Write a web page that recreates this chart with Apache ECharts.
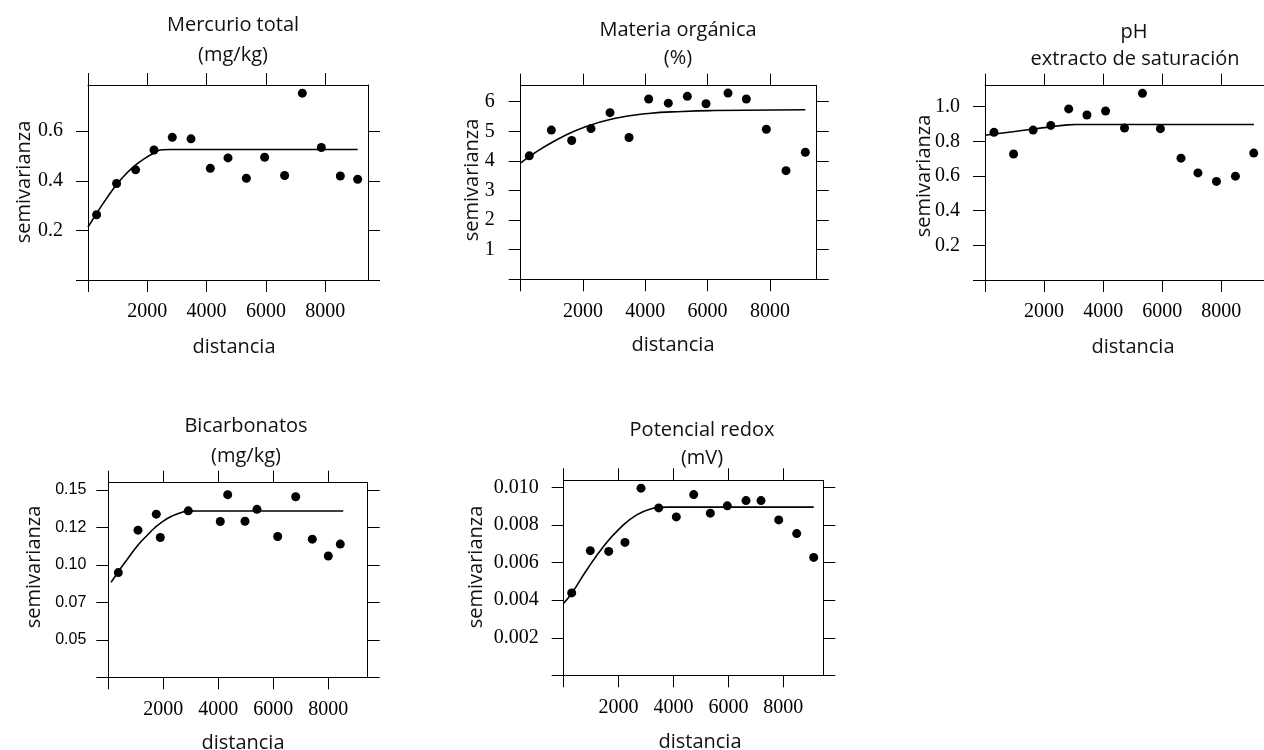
<!DOCTYPE html>
<html>
<head>
<meta charset="utf-8">
<script src="https://cdn.jsdelivr.net/npm/echarts@6/dist/echarts.min.js"></script>
<style>
  html, body { margin: 0; padding: 0; background: #fff; }
  #chart { width: 1264px; height: 750px; }
</style>
</head>
<body>
<div id="chart"></div>
<script>
// ---- datos (semivariogramas) ----

// Mercurio total
const mercurioDist = [290, 965, 1606, 2226, 2843, 3474, 4125, 4722, 5340, 5957, 6631, 7228, 7869, 8509, 9094];
const mercurioGamma = [0.263, 0.389, 0.444, 0.524, 0.575, 0.569, 0.450, 0.492, 0.410, 0.495, 0.421, 0.753, 0.534, 0.419, 0.406];
const mercurioModelDist = [0, 300, 650, 1000, 1300, 1600, 1900, 2200, 2500, 2800, 9094];
const mercurioModelGamma = [0.213, 0.270, 0.333, 0.390, 0.430, 0.463, 0.489, 0.510, 0.525, 0.526, 0.526];

// Materia orgánica
const materiaDist = [276, 983, 1637, 2257, 2867, 3477, 4109, 4739, 5349, 5949, 6655, 7243, 7885, 8517, 9137];
const materiaGamma = [4.17, 5.04, 4.69, 5.09, 5.63, 4.79, 6.09, 5.95, 6.18, 5.93, 6.29, 6.09, 5.07, 3.67, 4.29];
const materiaModelDist = [0, 300, 600, 900, 1300, 2000, 3000, 4100, 5200, 6200, 9137];
const materiaModelGamma = [3.93, 4.16, 4.37, 4.56, 4.79, 5.12, 5.43, 5.60, 5.67, 5.70, 5.73];

// pH extracto de saturación
const phDist = [304, 967, 1629, 2226, 2833, 3450, 4081, 4722, 5329, 5936, 6634, 7207, 7835, 8476, 9096];
const phGamma = [0.852, 0.727, 0.865, 0.892, 0.987, 0.952, 0.975, 0.877, 1.077, 0.873, 0.703, 0.618, 0.569, 0.599, 0.732];
const phModelDist = [0, 1000, 2000, 2800, 3100, 9100];
const phModelGamma = [0.835, 0.857, 0.879, 0.895, 0.897, 0.897];

// Bicarbonatos
const bicarbDist = [364, 1080, 1745, 1891, 2909, 4073, 4342, 4971, 5407, 6160, 6815, 7418, 8000, 8436];
const bicarbGamma = [0.0949, 0.1232, 0.1339, 0.1183, 0.1361, 0.1290, 0.1469, 0.1292, 0.1371, 0.1190, 0.1455, 0.1172, 0.1060, 0.1139];
const bicarbModelDist = [100, 364, 700, 1090, 1400, 1700, 2000, 2300, 2600, 2900, 3200, 8545];
const bicarbModelGamma = [0.0884, 0.0955, 0.1040, 0.1135, 0.1195, 0.1250, 0.1293, 0.1325, 0.1347, 0.1359, 0.1360, 0.1360];

// Potencial redox
const redoxDist = [291, 969, 1639, 2233, 2816, 3461, 4102, 4736, 5341, 5960, 6641, 7188, 7833, 8488, 9107];
const redoxGamma = [0.00439, 0.00664, 0.00660, 0.00708, 0.00997, 0.00892, 0.00844, 0.00963, 0.00864, 0.00903, 0.00931, 0.00931, 0.00828, 0.00755, 0.00628];
const redoxModelDist = [0, 291, 838, 1443, 2051, 2659, 3264, 3508, 3800, 9107];
const redoxModelGamma = [0.00384, 0.00437, 0.00561, 0.00685, 0.00784, 0.00855, 0.00890, 0.00895, 0.00896, 0.00896];

// ticks
const xTicks = [0, 2000, 4000, 6000, 8000];
const xTickLabels = [2000, 4000, 6000, 8000];
const mercurioYTicks = [0, 0.2, 0.4, 0.6];
const materiaYTicks = [0, 1, 2, 3, 4, 5, 6];
const phYTicks = [0, 0.2, 0.4, 0.6, 0.8, 1.0];
const bicarbYTicks = [0.025, 0.05, 0.075, 0.1, 0.125, 0.15];
const bicarbYLabels = ["0.05", "0.07", "0.10", "0.12", "0.15"];
const redoxYTicks = [0, 0.002, 0.004, 0.006, 0.008, 0.010];

const zip = (a, b) => a.map((v, i) => [v, b[i]]);

// paneles: caja del gráfico en píxeles + textos
const panels = [
  {
    box: { left: 88, top: 85, width: 280, height: 195 }, xMax: 9443, yMin: 0, yMax: 0.786,
    yTicks: mercurioYTicks, fmt: v => v.toFixed(1), labelMargin: 25, sansY: false,
    pts: zip(mercurioDist, mercurioGamma), model: zip(mercurioModelDist, mercurioModelGamma),
    title: [["Mercurio total", 233, 25], ["(mg/kg)", 233, 55]], ylab: [24, 182], xlab: [234, 347]
  },
  {
    box: { left: 520.7, top: 85.7, width: 296, height: 193.6 }, xMax: 9502, yMin: 0, yMax: 6.54,
    yTicks: materiaYTicks, fmt: v => String(v), labelMargin: 26, sansY: false,
    pts: zip(materiaDist, materiaGamma), model: zip(materiaModelDist, materiaModelGamma),
    title: [["Materia orgánica", 678, 30], ["(%)", 678, 58]], ylab: [472, 180], xlab: [673, 345]
  },
  {
    box: { left: 985, top: 85.7, width: 280, height: 194.3 }, xMax: 9443, yMin: 0, yMax: 1.121,
    yTicks: phYTicks, fmt: v => v.toFixed(1), labelMargin: 25, sansY: false,
    pts: zip(phDist, phGamma), model: zip(phModelDist, phModelGamma),
    title: [["pH", 1134, 32], ["extracto de saturación", 1135, 59]], ylab: [924, 176], xlab: [1133, 347]
  },
  {
    box: { left: 108.3, top: 482.7, width: 259.4, height: 194.6 }, xMax: 9433, yMin: 0.025, yMax: 0.1549,
    yTicks: bicarbYTicks,
    fmt: v => bicarbYLabels[bicarbYTicks.slice(1).findIndex(t => Math.abs(t - v) < 1e-9)],
    labelMargin: 22, sansY: true,
    pts: zip(bicarbDist, bicarbGamma), model: zip(bicarbModelDist, bicarbModelGamma),
    title: [["Bicarbonatos", 246, 426], ["(mg/kg)", 246, 456]], ylab: [34, 567], xlab: [243, 743]
  },
  {
    box: { left: 563.7, top: 480.3, width: 259.6, height: 195 }, xMax: 9457, yMin: 0, yMax: 0.01039,
    yTicks: redoxYTicks, fmt: v => v.toFixed(3), labelMargin: 25, sansY: false,
    pts: zip(redoxDist, redoxGamma), model: zip(redoxModelDist, redoxModelGamma),
    title: [["Potencial redox", 702, 430], ["(mV)", 702, 458]], ylab: [476, 567], xlab: [700, 742]
  }
];

const SERIF = "'Liberation Serif', 'Times New Roman', serif";
const SANS = "'Open Sans', 'Noto Sans', sans-serif";

const grid = [], xAxis = [], yAxis = [], series = [], graphic = [];

panels.forEach((p, i) => {
  grid.push({ ...p.box, containLabel: false });

  const line = { show: true, onZero: false, lineStyle: { color: "#000", width: 1 } };
  const tickX = { show: true, length: 12, customValues: xTicks, lineStyle: { color: "#000", width: 1 } };
  const tickY = { show: true, length: 12, customValues: p.yTicks, lineStyle: { color: "#000", width: 1 } };

  ["bottom", "top"].forEach(pos => {
    xAxis.push({
      type: "value", gridIndex: i, position: pos, min: 0, max: p.xMax,
      axisLine: line, axisTick: tickX, splitLine: { show: false },
      axisLabel: pos === "bottom"
        ? { show: true, customValues: xTickLabels, margin: 22, color: "#000", fontFamily: SERIF, fontSize: 20,
            formatter: v => String(v) }
        : { show: false }
    });
  });

  ["left", "right"].forEach(pos => {
    yAxis.push({
      type: "value", gridIndex: i, position: pos, min: p.yMin, max: p.yMax,
      axisLine: line, axisTick: tickY, splitLine: { show: false },
      axisLabel: pos === "left"
        ? {
            show: true, customValues: p.yTicks.slice(1), margin: p.labelMargin, color: "#000",
            fontFamily: p.sansY ? "'Liberation Sans', Arial, sans-serif" : SERIF,
            fontSize: p.sansY ? 16 : 20, formatter: p.fmt
          }
        : { show: false }
    });
  });

  series.push({
    type: "line", xAxisIndex: 2 * i, yAxisIndex: 2 * i, data: p.model,
    showSymbol: false, smooth: 0.5,
    lineStyle: { color: "#000", width: 1.6 }, silent: true, z: 2
  });
  series.push({
    type: "scatter", xAxisIndex: 2 * i, yAxisIndex: 2 * i, data: p.pts,
    symbol: "circle", symbolSize: 9, itemStyle: { color: "#000", opacity: 1 }, z: 3
  });

  p.title.forEach(([t, x, y]) => {
    graphic.push({
      type: "text", x, y,
      style: { text: t, align: "center", verticalAlign: "middle", font: "20px " + SANS, fill: "#111" }
    });
  });
  graphic.push({
    type: "text", x: p.ylab[0], y: p.ylab[1], rotation: Math.PI / 2,
    style: { text: "semivarianza", align: "center", verticalAlign: "middle", font: "20px " + SANS, fill: "#111" }
  });
  graphic.push({
    type: "text", x: p.xlab[0], y: p.xlab[1],
    style: { text: "distancia", align: "center", verticalAlign: "middle", font: "20px " + SANS, fill: "#111" }
  });
});

const chart = echarts.init(document.getElementById("chart"), null, { renderer: "canvas" });
chart.setOption({
  backgroundColor: "#fff",
  animation: false,
  grid, xAxis, yAxis, series, graphic
});
</script>
</body>
</html>
